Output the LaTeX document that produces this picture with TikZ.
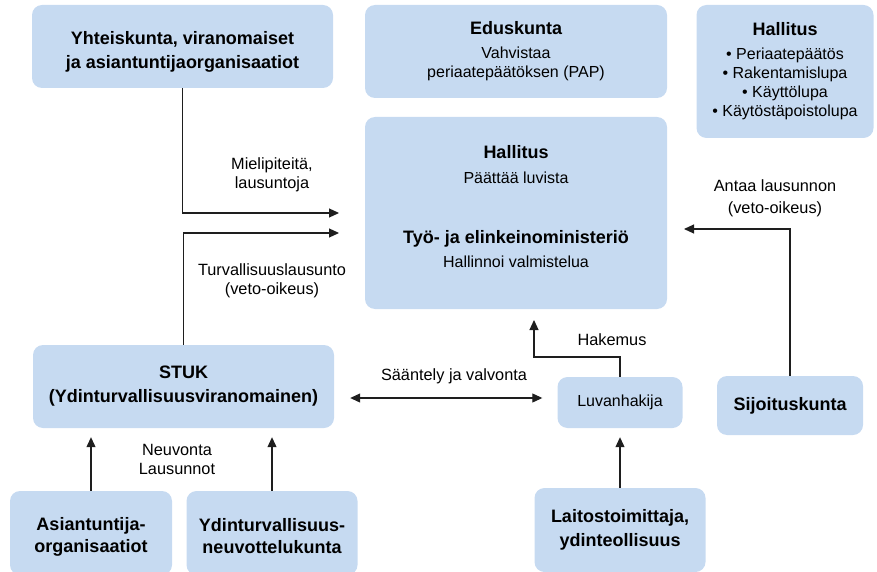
\documentclass[tikz,border=0pt]{standalone}
\usepackage{fontspec}
\setmainfont{Liberation Sans}
\usetikzlibrary{arrows.meta}

\definecolor{boxblue}{RGB}{198,218,241}
\definecolor{linegray}{RGB}{30,30,30}
\newcommand{\hd}[1]{{\fontsize{18}{24}\selectfont\bfseries #1}}

\tikzset{
  box/.style={fill=boxblue, rounded corners=10pt, align=center, inner sep=0pt,
              font=\fontsize{16}{19}\selectfont},
  flow/.style={draw=linegray, line width=1.1pt, -{Triangle[length=10pt,width=9pt]}},
  both/.style={draw=linegray, line width=1.1pt,
               {Triangle[length=10pt,width=9pt]}-{Triangle[length=10pt,width=9pt]}},
  lbl/.style={align=center, font=\fontsize{16.3}{19}\selectfont}
}

\begin{document}
\begin{tikzpicture}[x=1pt,y=-1pt]

  \useasboundingbox (0,0) rectangle (877,572);
  \clip (0,0) rectangle (877,572);

  % top row
  \node (YHT) at (182.5,46.5) [box,minimum width=301pt,minimum height=83pt]
    {\rule{0pt}{23pt}\hd{Yhteiskunta, viranomaiset}\\[5pt]\hd{ja asiantuntijaorganisaatiot}};
  \node (EDU) at (516,51.5) [box,minimum width=302pt,minimum height=93pt]
    {\hd{Eduskunta}\\[5pt]Vahvistaa\\periaatepäätöksen (PAP)};
  \node (HALR) at (785,71.5) [box,minimum width=177pt,minimum height=133pt]
    {\hd{Hallitus}\\[5pt]• Periaatepäätös\\• Rakentamislupa\\• Käyttölupa\\• Käytöstäpoistolupa};

  % middle
  \node (HAL) at (516,213) [box,minimum width=302pt,minimum height=192pt]
    {\hd{Hallitus}\\[6pt]Päättää luvista\\[41pt]\hd{Työ- ja elinkeinoministeriö}\\[5pt]Hallinnoi valmistelua\rule[-13pt]{0pt}{1pt}};

  \node (STUK) at (183.5,386.5) [box,minimum width=301pt,minimum height=83pt]
    {\hd{STUK}\\[5pt]\hd{(Ydinturvallisuusviranomainen)}};
  \node (LUV) at (620,402.5) [box,minimum width=125pt,minimum height=51pt] {Luvanhakija};
  \node (SIJ) at (790,405.5) [box,minimum width=146pt,minimum height=59pt] {\hd{Sijoituskunta}};

  % bottom row
  \node (ASI) at (91,533) [box,minimum width=162pt,minimum height=84pt]
    {\rule{0pt}{20pt}\hd{Asiantuntija-}\\[3pt]\hd{organisaatiot}};
  \node (YNK) at (272,533) [box,minimum width=171pt,minimum height=84pt]
    {\rule{0pt}{20pt}\hd{Ydinturvallisuus-}\\[3pt]\hd{neuvottelukunta}};
  \node (LAI) at (620,530) [box,minimum width=171pt,minimum height=84pt]
    {\hd{Laitostoimittaja,}\\[5pt]\hd{ydinteollisuus}};

  % arrow ends
  \coordinate (IN1) at (339,213);
  \coordinate (IN2) at (339,233);
  \coordinate (IN3) at (684,229);
  \coordinate (IN4) at (534,320);
  \coordinate (HK)  at (534,357);

  \draw[flow] (YHT.south) |- (IN1);
  \draw[flow] (STUK.north) |- (IN2);
  \draw[flow] (SIJ.north) |- (IN3);
  \draw[flow] (LUV.north) |- (HK) -- (IN4);
  \draw[both] ([xshift=16pt,yshift=-11.5pt]STUK.east) -- ([xshift=-15pt,yshift=4.5pt]LUV.west);
  \draw[flow,shorten >=9pt] (ASI.north) -- (ASI.north |- STUK.south);
  \draw[flow,shorten >=9pt] (YNK.north) -- (YNK.north |- STUK.south);
  \draw[flow,shorten >=9pt] (LAI.north) -- (LAI.north |- LUV.south);

  % labels
  \node (MIEL) at (272,175) [lbl] {Mielipiteitä,\\lausuntoja};
  \node (TURV) at (272,281) [lbl] {Turvallisuuslausunto\\(veto-oikeus)};
  \node (ANT)  at (775,198) [lbl] {Antaa lausunnon\\[3pt](veto-oikeus)};
  \node (HAKE) at (612,340) [lbl] {Hakemus};
  \node (SAAT) at (454,376) [lbl] {Sääntely ja valvonta};
  \node (NEUV) at (177,459) [lbl] {Neuvonta\\Lausunnot};

\end{tikzpicture}
\end{document}
